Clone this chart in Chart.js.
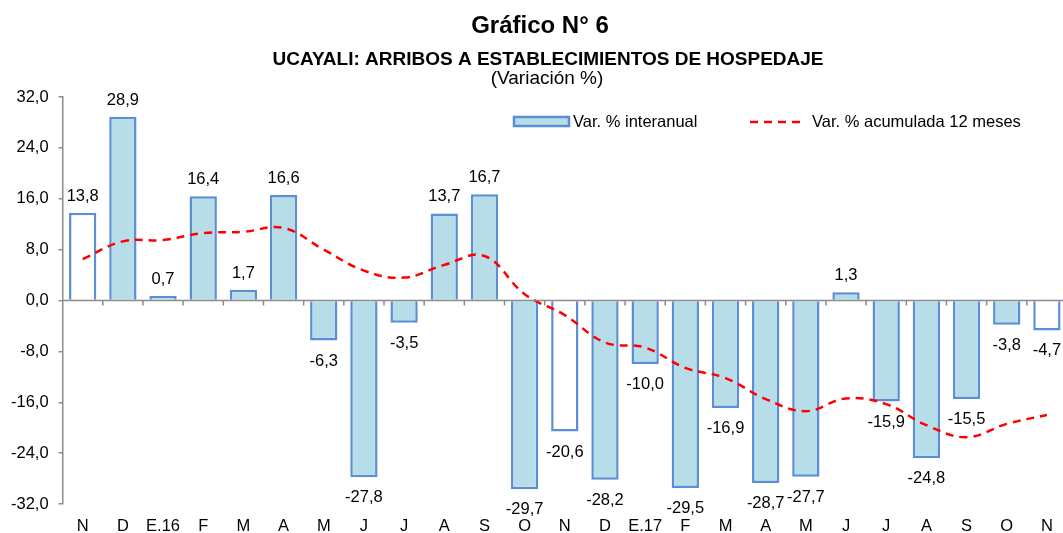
<!DOCTYPE html>
<html>
<head>
<meta charset="utf-8">
<script src="https://cdn.jsdelivr.net/npm/chart.js@4.4.1/dist/chart.umd.min.js"></script>
<style>
  body { margin: 0; overflow: hidden; background: #fff; }
  #wrap { width: 1067px; height: 533px; }
</style>
</head>
<body>
<div id="wrap"><canvas id="chart" width="1067" height="533"></canvas></div>
<script>
const months = ['N', 'D', 'E.16', 'F', 'M', 'A', 'M', 'J', 'J', 'A', 'S', 'O',
    'N', 'D', 'E.17', 'F', 'M', 'A', 'M', 'J', 'J', 'A', 'S', 'O', 'N'];
const varInteranual = [13.8, 28.9, 0.7, 16.4, 1.7, 16.6, -6.3, -27.8, -3.5, 13.7, 16.7, -29.7,
    -20.6, -28.2, -10.0, -29.5, -16.9, -28.7, -27.7, 1.3, -15.9, -24.8, -15.5, -3.8, -4.7];
const varAcumulada = [6.5, 9.3, 9.5, 10.6, 10.8, 11.4, 8.0, 4.7, 3.6, 5.6, 7.0, 1.0,
    -2.3, -6.6, -7.4, -10.6, -12.2, -15.5, -17.4, -15.4, -16.3, -19.6, -21.5, -19.4, -18.0];
const yTicks = [-32, -24, -16, -8, 0, 8, 16, 24, 32];
// months shown as hollow bars (every November)
const hollowMonths = [0, 12, 24];

const FONT = 'Liberation Sans, Arial, sans-serif';
const BAR_FILL = '#b7dee8';
const BAR_LINE = '#5b8ed6';
const AXIS = '#8c8c8c';

const fmt = (v) => v.toFixed(1).replace('.', ',');

const titlePlugin = {
    id: 'titles',
    afterDraw(chart) {
        const ctx = chart.ctx;
        ctx.save();
        ctx.fillStyle = '#000';
        ctx.textAlign = 'center';
        ctx.textBaseline = 'alphabetic';
        ctx.font = 'bold 24px ' + FONT;
        ctx.fillText('Gráfico N° 6', 540, 33);
        ctx.font = 'bold 19px ' + FONT;
        ctx.fillText('UCAYALI: ARRIBOS A ESTABLECIMIENTOS DE HOSPEDAJE', 548, 65);
        ctx.font = '19px ' + FONT;
        ctx.fillText('(Variación %)', 547, 84);

        // legend
        ctx.font = '16.5px ' + FONT;
        ctx.textAlign = 'left';
        ctx.textBaseline = 'middle';
        ctx.fillStyle = BAR_FILL;
        ctx.fillRect(514, 117, 55, 9);
        ctx.strokeStyle = BAR_LINE;
        ctx.lineWidth = 2.5;
        ctx.strokeRect(514, 117, 55, 9);
        ctx.fillStyle = '#000';
        ctx.fillText('Var. % interanual', 573, 122);
        ctx.strokeStyle = '#ff0000';
        ctx.setLineDash([8, 6]);
        ctx.beginPath();
        ctx.moveTo(750, 122);
        ctx.lineTo(804, 122);
        ctx.stroke();
        ctx.setLineDash([]);
        ctx.fillText('Var. % acumulada 12 meses', 812, 122);
        ctx.restore();
    }
};

// category axis crossing at zero, with tick marks between months
const zeroAxis = {
    id: 'zeroAxis',
    afterDatasetsDraw(chart) {
        const ctx = chart.ctx;
        const xs = chart.scales.x;
        const y0 = chart.scales.y.getPixelForValue(0);
        const step = xs.getPixelForValue(1) - xs.getPixelForValue(0);
        ctx.save();
        ctx.strokeStyle = AXIS;
        ctx.lineWidth = 1.5;
        ctx.beginPath();
        ctx.moveTo(chart.chartArea.left, y0);
        ctx.lineTo(chart.chartArea.right, y0);
        for (let i = 0; i < months.length; i++) {
            const x = xs.getPixelForValue(i) + step / 2;
            ctx.moveTo(x, y0);
            ctx.lineTo(x, y0 + 5);
        }
        ctx.stroke();
        ctx.restore();
    }
};

const barLabels = {
    id: 'barLabels',
    afterDatasetsDraw(chart) {
        const ctx = chart.ctx;
        const meta = chart.getDatasetMeta(1);
        ctx.save();
        ctx.font = '16.5px ' + FONT;
        ctx.fillStyle = '#000';
        ctx.textAlign = 'center';
        ctx.textBaseline = 'alphabetic';
        meta.data.forEach((bar, i) => {
            const v = varInteranual[i];
            const y = v >= 0 ? bar.y - 12 : bar.y + 25;
            ctx.fillText(fmt(v), bar.x, y);
        });
        ctx.restore();
    }
};

const barColors = varInteranual.map((v, i) => hollowMonths.includes(i) ? '#ffffff' : BAR_FILL);

new Chart(document.getElementById('chart'), {
    data: {
        labels: months,
        datasets: [
            {
                type: 'line',
                label: 'Var. % acumulada 12 meses',
                data: varAcumulada,
                borderColor: '#ff0000',
                borderWidth: 2.5,
                borderDash: [8, 6],
                pointRadius: 0,
                tension: 0.4,
                order: 0,
            },
            {
                type: 'bar',
                label: 'Var. % interanual',
                data: varInteranual,
                backgroundColor: barColors,
                borderColor: BAR_LINE,
                borderWidth: 2.5,
                barPercentage: 0.68,
                categoryPercentage: 1,
                order: 1,
            },
        ],
    },
    options: {
        responsive: false,
        animation: false,
        layout: { padding: { top: 97, left: 1, right: 0, bottom: 0 } },
        plugins: {
            legend: { display: false },
            title: { display: false },
            tooltip: { enabled: false },
        },
        scales: {
            x: {
                type: 'category',
                grid: { display: false, drawTicks: false },
                border: { display: false },
                afterFit: (s) => {
                    s.paddingTop = 0;
                    s.paddingBottom = 0;
                    s.height = 29;
                },
                ticks: {
                    color: '#000',
                    font: { family: FONT, size: 16.5 },
                    padding: 13,
                    maxRotation: 0,
                    autoSkip: false,
                },
            },
            y: {
                min: yTicks[0],
                max: yTicks[yTicks.length - 1],
                afterBuildTicks: (scale) => {
                    scale.ticks = yTicks.map((v) => ({ value: v }));
                },
                grid: {
                    drawOnChartArea: false,
                    drawTicks: true,
                    tickLength: 4,
                    color: AXIS,
                    lineWidth: 1.5,
                },
                border: { color: AXIS, width: 1.5 },
                ticks: {
                    color: '#000',
                    padding: 10,
                    font: { family: FONT, size: 16.5 },
                    callback: (v) => fmt(v),
                },
            },
        },
    },
    plugins: [titlePlugin, zeroAxis, barLabels],
});
</script>
</body>
</html>
